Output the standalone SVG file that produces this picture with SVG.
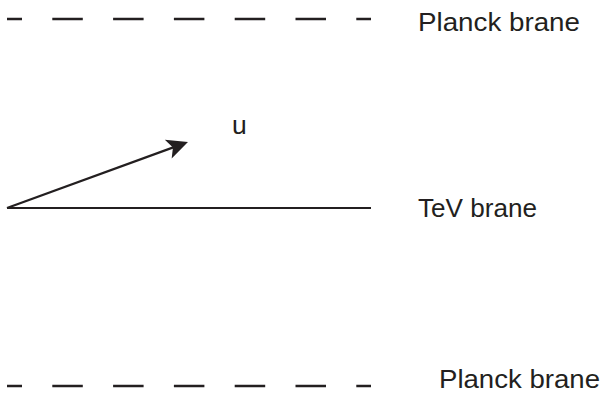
<svg xmlns="http://www.w3.org/2000/svg" width="603" height="394" viewBox="0 0 603 394">
  <style>
    .lbl { font-family: "Liberation Sans", Arial, sans-serif; font-size: 26.5px; fill: #231f20; }
    .dash { stroke: #231f20; stroke-width: 2.4; fill: none; stroke-dasharray: 30.5 30.3; stroke-dashoffset: 15.5; }
    .solid { stroke: #231f20; stroke-width: 2.2; fill: none; }
  </style>
  <defs>
    <marker id="arrow" markerUnits="userSpaceOnUse" viewBox="-10 -12 24 24" refX="0" refY="0" markerWidth="24" markerHeight="24" orient="auto" overflow="visible">
      <path d="M12,0 L-9,-10 L-4,0 L-9,10 Z" fill="#231f20"/>
    </marker>
  </defs>
  <g id="planck-top">
    <line class="dash" x1="7" y1="19" x2="371" y2="19"/>
    <text class="lbl" x="418" y="31" textLength="162" lengthAdjust="spacingAndGlyphs">Planck brane</text>
  </g>
  <g id="tev">
    <line class="solid" x1="7" y1="208" x2="371" y2="208"/>
    <text class="lbl" x="418" y="217" textLength="119" lengthAdjust="spacingAndGlyphs">TeV brane</text>
  </g>
  <g id="planck-bottom">
    <line class="dash" x1="7" y1="386" x2="371" y2="386"/>
    <text class="lbl" x="439" y="388" textLength="161" lengthAdjust="spacingAndGlyphs">Planck brane</text>
  </g>
  <g id="u-label">
    <text class="lbl" x="232" y="134">u</text>
  </g>
  <g id="connectors">
    <line class="solid" x1="7" y1="208" x2="176.7" y2="146.1" marker-end="url(#arrow)"/>
  </g>
</svg>
